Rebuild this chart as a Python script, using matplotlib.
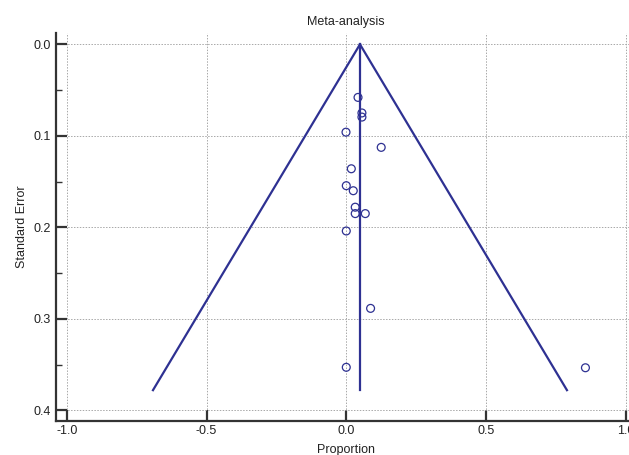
import numpy as np
import matplotlib
matplotlib.use("Agg")
import matplotlib.pyplot as plt
from matplotlib.ticker import MultipleLocator

plt.rcParams['font.family'] = ['Liberation Sans', 'DejaVu Sans']

# study estimates (proportion) and their standard errors
proportion = [0.042, 0.056, 0.056, -0.001, 0.125, 0.018, 0.000, 0.025,
              0.032, 0.032, 0.068, 0.000, 0.087, 0.000, 0.856]
std_error = [0.058, 0.075, 0.0795, 0.096, 0.1126, 0.136, 0.1545, 0.160,
             0.178, 0.185, 0.185, 0.204, 0.2886, 0.353, 0.3535]

pooled = 0.049      # summary proportion
se_max = 0.378      # bottom of the funnel

line_col = '#2e3192'
axis_col = '#333333'
text_col = '#222222'

fig = plt.figure(figsize=(6.29, 4.55), dpi=100)
ax = fig.add_axes([56 / 629, 34 / 455, 580 / 629, 388 / 455])

# funnel (pseudo 95% limits) and pooled estimate line
se_line = np.array([0.0, se_max])
ax.plot(pooled - 1.96 * se_line, se_line, color=line_col, lw=1.6, zorder=3)
ax.plot(pooled + 1.96 * se_line, se_line, color=line_col, lw=1.6, zorder=3)
ax.plot([pooled, pooled], se_line, color=line_col, lw=1.6, zorder=3)

ax.scatter(proportion, std_error, s=32, facecolors='none', edgecolors=line_col,
           linewidths=0.9, zorder=4)

ax.set_xlim(-1.039, 1.037)
ax.set_ylim(0.4117, -0.0124)

ax.xaxis.set_major_locator(MultipleLocator(0.5))
ax.yaxis.set_major_locator(MultipleLocator(0.1))
ax.yaxis.set_minor_locator(MultipleLocator(0.05))
ax.xaxis.set_major_formatter(plt.FuncFormatter(lambda v, p: f"{v:.1f}"))
ax.yaxis.set_major_formatter(plt.FuncFormatter(lambda v, p: f"{v:.1f}"))

ax.grid(True, which='major', color='#a8a8a8', linestyle=(0, (1.5, 1.5)), lw=0.7)
ax.set_axisbelow(True)

for side in ['top', 'right']:
    ax.spines[side].set_visible(False)
for side in ['left', 'bottom']:
    ax.spines[side].set_color(axis_col)
    ax.spines[side].set_linewidth(1.6)

ax.tick_params(which='major', direction='in', length=8, width=1.6,
               color=axis_col, labelsize=9, labelcolor=text_col)
ax.tick_params(axis='x', pad=3)
ax.tick_params(axis='y', pad=4)
ax.tick_params(which='minor', direction='in', length=4.5, width=1.0, color=axis_col)

ax.set_title("Meta-analysis", fontsize=9, pad=6, color=text_col)
ax.set_xlabel("Proportion", fontsize=9, labelpad=5, color=text_col)
ax.set_ylabel("Standard Error", fontsize=9, labelpad=4, color=text_col)

fig.savefig("out.png", dpi=100)
